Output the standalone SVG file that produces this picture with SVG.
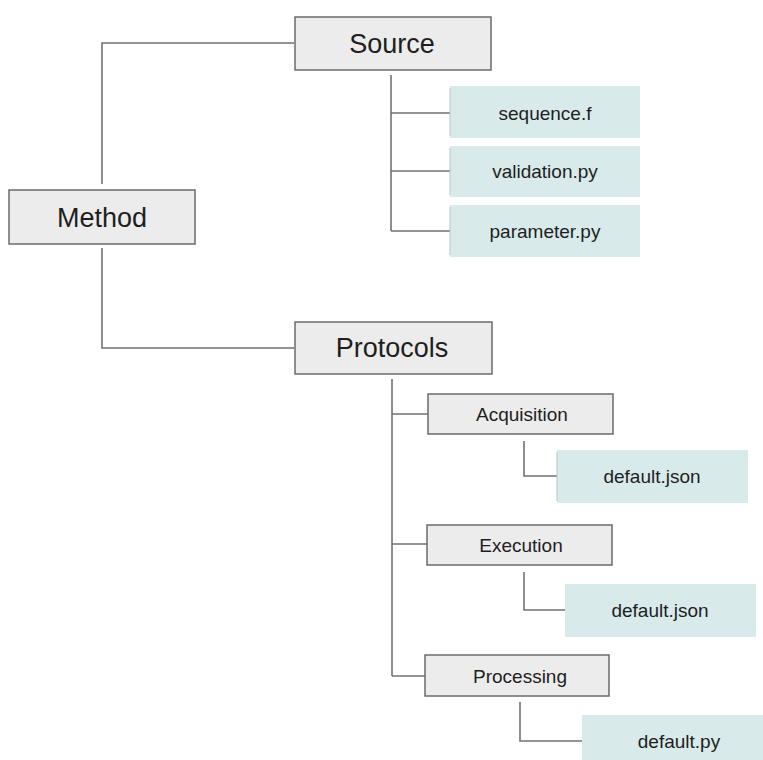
<svg xmlns="http://www.w3.org/2000/svg" width="763" height="760" viewBox="0 0 763 760">
  <style>
    .box { fill: #ececec; stroke: #6b6b6b; stroke-width: 1.5; }
    .file { fill: #d9eaeb; stroke: none; }
    .edge { fill: #b9c4c5; }
    .wire { fill: none; stroke: #727272; stroke-width: 1.6; }
    text { font-family: "Liberation Sans", Arial, sans-serif; fill: #1e1e1e; text-anchor: middle; }
    .big { font-size: 27px; }
    .small { font-size: 19px; }
  </style>
  <rect width="763" height="760" fill="#ffffff"/>

  <!-- connectors -->
  <g id="connectors">
    <polyline class="wire" points="102,184 102,43 294,43"/>
    <polyline class="wire" points="102,248 102,348 294,348"/>
    <line class="wire" x1="391" y1="75" x2="391" y2="231"/>
    <line class="wire" x1="391" y1="113" x2="450" y2="113"/>
    <line class="wire" x1="391" y1="171" x2="450" y2="171"/>
    <line class="wire" x1="391" y1="231" x2="450" y2="231"/>
    <line class="wire" x1="392" y1="379" x2="392" y2="676"/>
    <line class="wire" x1="392" y1="414" x2="428" y2="414"/>
    <line class="wire" x1="392" y1="544" x2="427" y2="544"/>
    <line class="wire" x1="392" y1="676" x2="425" y2="676"/>
    <polyline class="wire" points="524,441 524,476 557,476"/>
    <polyline class="wire" points="524,572 524,610 565,610"/>
    <polyline class="wire" points="520,702 520,741 582,741"/>
  </g>

  <g id="method">
    <rect class="box" x="9" y="190" width="186" height="54"/>
    <text class="big" x="102" y="227">Method</text>
  </g>

  <g id="source">
    <rect class="box" x="295" y="17" width="196" height="53"/>
    <text class="big" x="392" y="53">Source</text>
  </g>

  <g id="sequence-f">
    <rect class="file" x="450" y="86" width="190" height="52"/>
    <rect class="edge" x="449.5" y="88" width="1" height="48"/>
    <text class="small" x="545" y="120">sequence.f</text>
  </g>

  <g id="validation-py">
    <rect class="file" x="450" y="146" width="190" height="51"/>
    <rect class="edge" x="449.5" y="148" width="1" height="47"/>
    <text class="small" x="545" y="178">validation.py</text>
  </g>

  <g id="parameter-py">
    <rect class="file" x="450" y="205" width="190" height="52"/>
    <rect class="edge" x="449.5" y="207" width="1" height="48"/>
    <text class="small" x="545" y="238">parameter.py</text>
  </g>

  <g id="protocols">
    <rect class="box" x="295" y="322" width="197" height="52"/>
    <text class="big" x="392" y="357">Protocols</text>
  </g>

  <g id="acquisition">
    <rect class="box" x="428" y="394" width="185" height="40"/>
    <text class="small" x="522" y="421">Acquisition</text>
  </g>

  <g id="acquisition-default-json">
    <rect class="file" x="557" y="450" width="191" height="53"/>
    <rect class="edge" x="556.5" y="452" width="1" height="49"/>
    <text class="small" x="652" y="483">default.json</text>
  </g>

  <g id="execution">
    <rect class="box" x="427" y="525" width="185" height="40"/>
    <text class="small" x="521" y="552">Execution</text>
  </g>

  <g id="execution-default-json">
    <rect class="file" x="565" y="584" width="191" height="53"/>
    <text class="small" x="660" y="617">default.json</text>
  </g>

  <g id="processing">
    <rect class="box" x="425" y="655" width="184" height="41"/>
    <text class="small" x="520" y="683">Processing</text>
  </g>

  <g id="processing-default-py">
    <rect class="file" x="582" y="715" width="194" height="50"/>
    <text class="small" x="679" y="748">default.py</text>
  </g>
</svg>
